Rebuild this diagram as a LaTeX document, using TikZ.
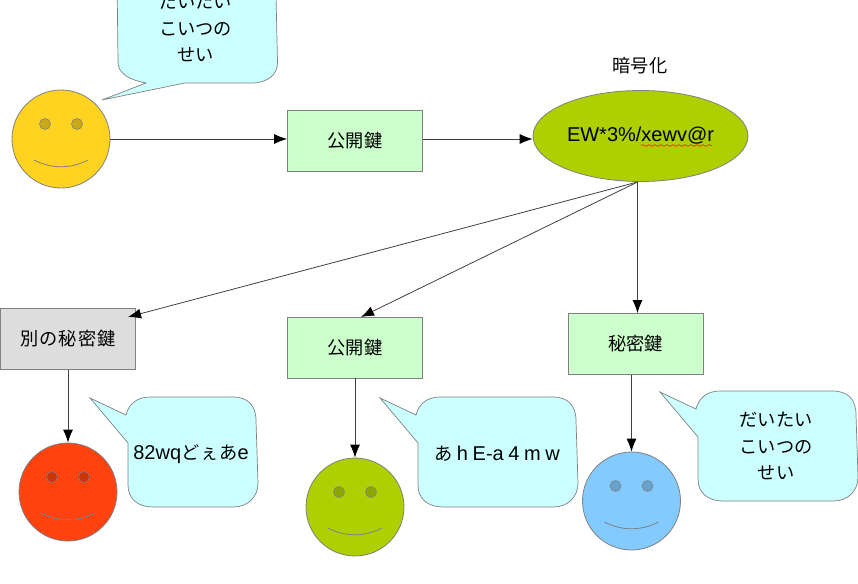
\documentclass[tikz,border=0pt]{standalone}
\usepackage{fontspec}
\setmainfont{Liberation Sans}
\newfontfamily\cjk[Scale=0.91]{Noto Sans CJK JP}
\usetikzlibrary{arrows.meta,calc,positioning,shapes.geometric,decorations.pathmorphing}

\definecolor{faceyellow}{HTML}{FFD320}
\definecolor{facered}{HTML}{FF420E}
\definecolor{facegreen}{HTML}{AECF00}
\definecolor{faceblue}{HTML}{83CAFF}
\definecolor{keygreen}{HTML}{CCFFCC}
\definecolor{keygray}{HTML}{DDDDDD}
\definecolor{bubblecyan}{HTML}{CCFFFF}
\definecolor{edgegray}{HTML}{808080}

\tikzset{
	keybox/.style={draw=edgegray, fill=keygreen, line width=0.8pt, minimum width=135pt, minimum height=61pt, inner sep=0pt, font=\fontsize{20}{26.5}\selectfont},
	face/.style={circle, draw=edgegray, line width=0.8pt, minimum size=98pt, inner sep=0pt},
	bubble/.style={draw=edgegray, fill=bubblecyan, line width=0.7pt},
	bubbletext/.style={align=center, font=\fontsize{20}{26.5}\selectfont},
	link/.style={-{Latex[length=13pt,width=10pt,black]}, black!75, line width=0.8pt}
}

% node name, x, y, colour
\newcommand{\smiley}[4]{
	\node[face, fill=#4] (#1) at (#2,#3) {};
	\draw[edgegray, fill=#4!80!black, line width=0.6pt] ($(#1)+(-16,-15)$) circle (5.5pt);
	\draw[edgegray, fill=#4!80!black, line width=0.6pt] ($(#1)+(16,-15)$) circle (5.5pt);
	\draw[edgegray, line width=0.8pt] ($(#1)+(-27,21)$) .. controls ($(#1)+(-10,30)$) and ($(#1)+(10,30)$) .. ($(#1)+(27,21)$);
}

% x, y of the upper left corner, width
\newcommand{\callout}[3]{
	\draw[bubble, shift={(#1,#2)}] (-2,18) .. controls (1,6) and (10,0) .. (22,0) -- (#3-26,0)
		.. controls (#3-10,0) and (#3-2,8) .. (#3-2,24) -- (#3,86)
		.. controls (#3,100) and (#3-10,110) .. (#3-25,110) -- (25,110)
		.. controls (10,110) and (0,102) .. (0,88) -- (0,46) -- (-38,1) -- cycle;
}

\begin{document}
\begin{tikzpicture}[x=1pt,y=-1pt]
	
	\clip (0,0) rectangle (858,583);
	
	% top row
	\draw[bubble] (117,-27) -- (118,62) .. controls (118,74) and (130,80) .. (146,83) -- (102,100) -- (185,83) -- (252,83)
		.. controls (268,83) and (278,74) .. (277.5,62) -- (275.5,-27) -- cycle;
	\node[bubbletext] (talkA) at (195.5,28) {\cjk だいたい\\\cjk こいつの\\\cjk せい};
	
	\smiley{faceA}{61}{139}{faceyellow}
	\node[keybox] (keyA) at (355,140.5) {\cjk 公開鍵};
	\node[ellipse, draw=edgegray, fill=facegreen, line width=0.8pt, minimum width=215pt, minimum height=91pt, inner sep=0pt, text height=15.5pt, text depth=4pt, font=\fontsize{20}{24}\selectfont] (cipher) at (640.5,136) {EW*3\%/xewv@r};
	\node[font=\fontsize{20}{24}\selectfont] (cipherlabel) at (640,66) {\cjk 暗号化};
	\draw[red, line width=0.5pt, decorate, decoration={snake, amplitude=0.9pt, segment length=6pt}] (641,145.5) -- (712,145.5);
	
	\coordinate (cipherfoot) at (637.5,182);
	\coordinate (topB) at (128,317);
	\coordinate (topC) at (361,317);
	
	% bottom row
	\node[keybox, fill=keygray] (keyB) at (68,339) {\cjk\addfontfeature{LetterSpace=5}別の秘密鍵};
	\node[keybox] (keyC) at (355,347.5) {\cjk 公開鍵};
	\node[keybox] (keyD) at (635.5,344) {\cjk 秘密鍵};
	
	\smiley{faceB}{68}{492}{facered}
	\smiley{faceC}{355}{507}{facegreen}
	\smiley{faceD}{631.5}{501}{faceblue}
	
	\callout{128}{397}{130}
	\callout{418}{397}{160}
	\callout{698}{391}{160}
	
	\node[bubbletext] (talkB) at (191,454) {82wq{\cjk\addfontfeature{LetterSpace=5}どぇあ}e};
	\node[bubbletext] (talkC) at (497,454) {\spaceskip=4.6pt{\cjk あ} h E-a 4 m w};
	\node[bubbletext] (talkD) at (776,446) {\cjk だいたい\\\cjk こいつの\\\cjk せい};
	
	\draw[link] (faceA) -- (keyA.west |- faceA);
	\draw[link] (keyA.east |- faceA) -- (cipher.west |- faceA);
	\draw[link] (cipherfoot) -- (topB);
	\draw[link] (cipherfoot) -- (topC);
	\draw[link] (cipherfoot) -- (cipherfoot |- keyD.north);
	\draw[link] (keyB) -- (faceB);
	\draw[link] (keyC) -- (faceC);
	\draw[link] (keyD.south -| faceD.north) -- (faceD);
\end{tikzpicture}
\end{document}
